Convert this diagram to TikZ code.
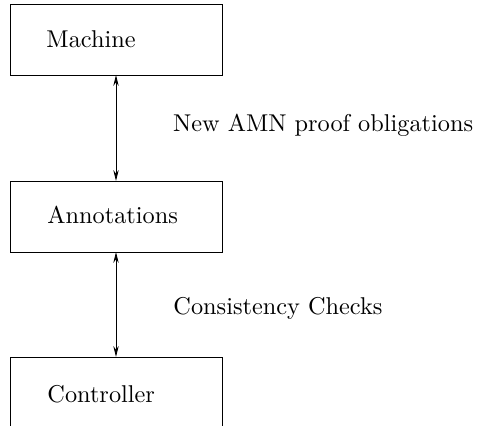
\documentclass[tikz,border=0pt]{standalone}
\usetikzlibrary{arrows.meta}
\begin{document}
\begin{tikzpicture}[x=0.4115pt,y=-0.4115pt,
  box/.style={draw, line width=0.35pt, minimum width=212*0.4115pt, minimum height=71*0.4115pt, inner sep=0pt, outer sep=0pt},
  lbl/.style={anchor=base west, inner sep=0pt, font=\fontsize{10}{12}\selectfont},
  conn/.style={line width=0.35pt, {Stealth[length=4.5pt,width=2.2pt,inset=1.5pt]}-{Stealth[length=4.5pt,width=2.2pt,inset=1.5pt]}}]
\clip (0,0) rectangle (477,426);
\fill[white] (0,0) rectangle (477,426);
\node[box] (m) at (116,39.5) {};
\node[box] (a) at (116,216.5) {};
\node[box] (c) at (116,392.5) {};
\node[lbl] (mt) at (46,48) {Machine};
\node[lbl] (at) at (47,224) {Annotations};
\node[lbl] (ct) at (47,403) {Controller};
\draw[conn] (m.south) -- (a.north);
\draw[conn] (a.south) -- (c.north);
\node[lbl] (l1) at (172.7,131.7) {New AMN proof obligations};
\node[lbl] (l2) at (173,315) {Consistency Checks};
\end{tikzpicture}
\end{document}
